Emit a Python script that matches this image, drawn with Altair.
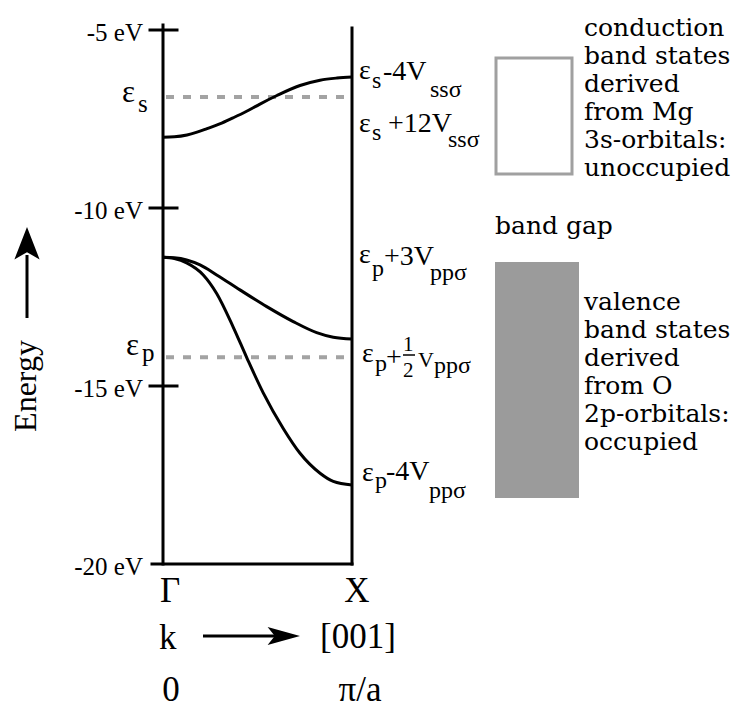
import altair as alt
import pandas as pd

# ---------------- data (k in units of pi/a, energies in eV) ----------------
k_s = [0.0, 0.06, 0.127, 0.18, 0.233, 0.30, 0.37, 0.44, 0.513, 0.603, 0.725, 0.831, 0.92, 1.0]
E_s = [-8.01, -8.00, -7.95, -7.87, -7.77, -7.64, -7.47, -7.29, -7.08, -6.84, -6.56, -6.41, -6.35, -6.32]

k_p1 = [0.0, 0.06, 0.125, 0.196, 0.284, 0.407, 0.549, 0.689, 0.813, 0.901, 1.0]
E_p1 = [-11.385, -11.40, -11.46, -11.60, -11.88, -12.30, -12.77, -13.19, -13.50, -13.63, -13.68]

k_p2 = [0.0, 0.06, 0.125, 0.213, 0.284, 0.372, 0.443, 0.531, 0.637, 0.725, 0.831, 0.901, 1.0]
E_p2 = [-11.385, -11.42, -11.54, -11.88, -12.40, -13.35, -14.20, -15.20, -16.20, -16.89, -17.45, -17.68, -17.78]

eps_s = -6.88
eps_p = -14.19

tick_energies = [-5, -10, -15, -20]
tick_labels = ["-5 eV", "-10 eV", "-15 eV", "-20 eV"]

conduction_text = ["conduction", "band states", "derived", "from Mg", "3s-orbitals:", "unoccupied"]
valence_text = ["valence", "band states", "derived", "from O", "2p-orbitals:", "occupied"]

# ---------------- layout helpers (picture pixel -> data coordinates) ----------------
PX_K0, PX_K1 = 163, 352
PY_A, PY_B = 30, 564  # -5 eV and -20 eV


def kx(px):
    return (px - PX_K0) / (PX_K1 - PX_K0)


def ey(py):
    return -5 - (py - PY_A) * 15 / (PY_B - PY_A)


def py_of(e):
    return PY_A + (-5 - e) * (PY_B - PY_A) / 15


W, H = 734, 703
xs = alt.Scale(domain=[kx(8), kx(8 + W)], nice=False, zero=False)
ys = alt.Scale(domain=[ey(8 + H), ey(8)], nice=False, zero=False)


def X(f):
    return alt.X(f, type="quantitative", scale=xs, axis=None)


def Y(f):
    return alt.Y(f, type="quantitative", scale=ys, axis=None)


SERIF = "Liberation Serif"
WIDE = "DejaVu Serif"


def seg_layer(rows, **kw):
    df = pd.DataFrame(rows)
    return alt.Chart(df).mark_rule(**kw).encode(
        x=X("x"), x2=alt.X2("x2"), y=Y("y"), y2=alt.Y2("y2"))


# ---------------- frame ----------------
frame_layer = seg_layer([
    dict(x=0, x2=0, y=ey(25), y2=-20),
    dict(x=1, x2=1, y=ey(28), y2=-20),
    dict(x=kx(152), x2=1, y=-20, y2=-20),
] + [dict(x=kx(150), x2=kx(177), y=e, y2=e) for e in tick_energies[:3]],
    color="black", strokeWidth=3, strokeCap="square")

dash_layer = seg_layer([dict(x=kx(166), x2=kx(346), y=eps_s, y2=eps_s),
                        dict(x=kx(166), x2=kx(346), y=eps_p, y2=eps_p)],
                       color="#a3a3a3", strokeWidth=4, strokeDash=[8, 9])

# ---------------- bands ----------------
bands = pd.concat([
    pd.DataFrame(dict(k=k_s, E=E_s, band="s")),
    pd.DataFrame(dict(k=k_p1, E=E_p1, band="p1")),
    pd.DataFrame(dict(k=k_p2, E=E_p2, band="p2")),
])
band_layer = alt.Chart(bands).mark_line(color="black", strokeWidth=3, interpolate="monotone").encode(
    x=X("k"), y=Y("E"), detail="band:N")

# ---------------- boxes ----------------
cbox = pd.DataFrame([dict(x=kx(496), x2=kx(572), y=ey(58), y2=ey(174))])
cbox_layer = alt.Chart(cbox).mark_rect(fill="white", fillOpacity=0, stroke="#a0a0a0", strokeWidth=3).encode(
    x=X("x"), x2=alt.X2("x2"), y=Y("y"), y2=alt.Y2("y2"))
vbox = pd.DataFrame([dict(x=kx(495), x2=kx(579), y=ey(262), y2=ey(498))])
vbox_layer = alt.Chart(vbox).mark_rect(fill="#9b9b9b").encode(
    x=X("x"), x2=alt.X2("x2"), y=Y("y"), y2=alt.Y2("y2"))

# ---------------- arrows ----------------
shaft_layer = seg_layer([dict(x=kx(27), x2=kx(27), y=ey(318), y2=ey(255)),
                         dict(x=kx(203), x2=kx(290), y=ey(636), y2=ey(636))],
                        color="black", strokeWidth=3)
up_head = alt.Chart(pd.DataFrame([dict(x=kx(27), y=ey(245))])).mark_point(
    shape="M0,-1 L0.7,0.8 L0,0.4 L-0.7,0.8 Z", filled=True, size=1296, color="black", opacity=1, strokeWidth=0
).encode(x=X("x"), y=Y("y"))
right_head = alt.Chart(pd.DataFrame([dict(x=kx(282), y=ey(636))])).mark_point(
    shape="M1,0 L-0.8,-0.5 L-0.4,0 L-0.8,0.5 Z", filled=True, size=1296, color="black", opacity=1, strokeWidth=0
).encode(x=X("x"), y=Y("y"))

frac_bar = seg_layer([dict(x=kx(403), x2=kx(415), y=ey(355), y2=ey(355))], color="black", strokeWidth=1.5)


# ---------------- texts ----------------
def text_layer(rows, **kw):
    df = pd.DataFrame(rows, columns=["t", "px", "py"])
    df["x"] = df["px"].map(kx)
    df["y"] = df["py"].map(ey)
    return alt.Chart(df).mark_text(color="black", **kw).encode(
        x=X("x"), y=Y("y"), text=alt.Text("t:N"))


tick_rows = [(lab, 143, py_of(e) + 3) for lab, e in zip(tick_labels, tick_energies)]
tick_text = text_layer(tick_rows, font=SERIF, fontSize=25, align="right", baseline="middle")

eps_big = text_layer([("ε", 122, 102), ("ε", 126, 355)], font=SERIF, fontSize=31, align="left", baseline="alphabetic")
eps_big_sub = text_layer([("s", 138, 112), ("p", 142, 361)], font=SERIF, fontSize=25, align="left", baseline="alphabetic")

main_rows = [
    ("ε", 359, 79), ("-4V", 383, 80),
    ("ε", 359, 132), ("+12V", 388, 132),
    ("ε", 359, 263), ("+3V", 384, 265),
    ("ε", 362, 362), ("+", 386, 366),
    ("ε", 362, 481), ("-4V", 386, 480),
]
main_text = text_layer(main_rows, font=SERIF, fontSize=28, align="left", baseline="alphabetic")
sub_rows = [
    ("s", 372, 88), ("ssσ", 430, 97),
    ("s", 372, 140), ("ssσ", 448, 147),
    ("p", 372, 276), ("ppσ", 430, 280),
    ("p", 375, 371), ("ppσ", 434, 373),
    ("p", 375, 488), ("ppσ", 429, 498),
]
sub_text = text_layer(sub_rows, font=SERIF, fontSize=24, align="left", baseline="alphabetic")
frac_text = text_layer([("1", 403, 351), ("2", 403, 377)], font=SERIF, fontSize=21, align="left", baseline="alphabetic")
v_small = text_layer([("V", 418, 367)], font=SERIF, fontSize=22, align="left", baseline="alphabetic")

desc = text_layer([("\n".join(conduction_text), 584, 36), ("\n".join(valence_text), 584, 310)],
                  font=WIDE, fontSize=25, align="left", baseline="alphabetic", lineBreak="\n", lineHeight=28)
gap_text = text_layer([("band gap", 495, 234)], font=WIDE, fontSize=25, align="left", baseline="alphabetic")

bottom_center = text_layer([("Γ", 170, 602), ("X", 357, 602), ("0", 171, 701), ("π/a", 360, 701)],
                           font=SERIF, fontSize=35, align="center", baseline="alphabetic")
bottom_left = text_layer([("k", 159, 649), ("[001]", 320, 648)],
                         font=SERIF, fontSize=35, align="left", baseline="alphabetic")
energy_text = text_layer([("Energy", 26, 386)], font=SERIF, fontSize=32, align="center", baseline="middle", angle=270)

chart = alt.layer(
    vbox_layer, cbox_layer, dash_layer, frame_layer, band_layer, shaft_layer, up_head, right_head, frac_bar,
    tick_text, eps_big, eps_big_sub, main_text, sub_text, frac_text, v_small, desc, gap_text,
    bottom_center, bottom_left, energy_text,
).properties(
    width=W, height=H, padding=0, autosize=alt.AutoSizeParams(type="none"),
    background="white",
).configure_view(stroke=None)

chart.save("out.html", embed_options={"renderer": "svg", "actions": False})
